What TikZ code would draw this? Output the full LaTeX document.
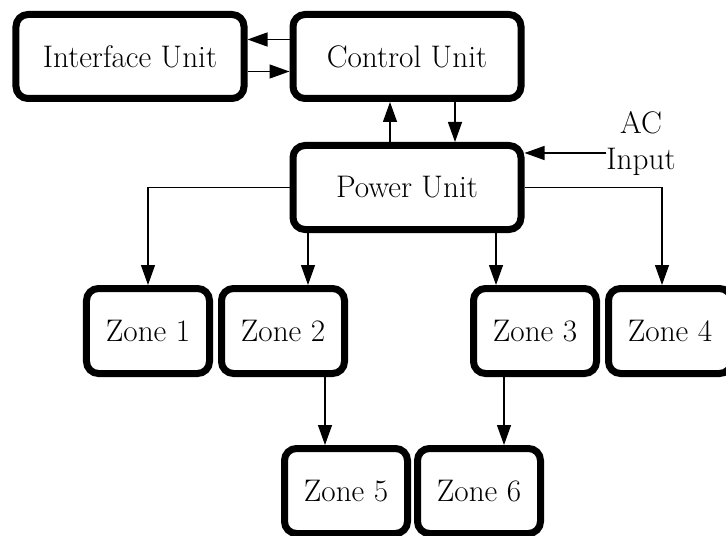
\documentclass[tikz,border=0pt]{standalone}
\usetikzlibrary{positioning,arrows.meta}

\begin{document}
\begin{tikzpicture}[
    >={Triangle[length=10pt,width=7pt]},
    font=\fontsize{15.6}{18}\selectfont,
    unit/.style={draw, rectangle, rounded corners=6pt, line width=3.5pt, minimum width=114pt, minimum height=42pt, align=center, fill=white},
    zone/.style={unit, minimum width=61.5pt, minimum height=42.5pt},
    arrow/.style={->, line width=0.65pt, draw=black}
]
  \useasboundingbox (-203.5pt,-239.25pt) rectangle (159.5pt,28.25pt);

  \node[unit] (ctrl) {Control Unit};
  \node[unit, left=21pt of ctrl] (iface) {Interface Unit};
  \node[unit, below=20pt of ctrl] (pwr) {Power Unit};
  \node[align=center, inner sep=0pt] (ac) at (117pt,-43.75pt) {AC\\Input};

  % zones
  \node[zone, below=26pt of pwr, xshift=-62pt] (z2) {Zone 2};
  \node[zone, left=2.5pt of z2] (z1) {Zone 1};
  \node[zone, below=26pt of pwr, xshift=64pt] (z3) {Zone 3};
  \node[zone, right=2.5pt of z3] (z4) {Zone 4};
  \node[zone, below=34pt of z2, xshift=31.5pt] (z5) {Zone 5};
  \node[zone, right=1.5pt of z5] (z6) {Zone 6};

  \draw[arrow] ([yshift=8.5pt]ctrl.west) -- ([yshift=8.5pt]iface.east);
  \draw[arrow] ([yshift=-7.5pt]iface.east) -- ([yshift=-7.5pt]ctrl.west);
  \draw[arrow] ([xshift=-8.5pt]pwr.north) -- ([xshift=-8.5pt]ctrl.south);
  \draw[arrow] ([xshift=24pt]ctrl.south) -- ([xshift=24pt]pwr.north);

  \coordinate (acin) at ([yshift=-4.5pt]ac.west);
  \draw[arrow] (acin) -- (acin -| pwr.east);

  \draw[arrow] (pwr.west) -| (z1.north);
  \draw[arrow] (pwr.east) -| ([xshift=-4pt]z4.north);
  \draw[arrow] ([xshift=12.5pt]z2.north |- pwr.south) -- ([xshift=12.5pt]z2.north);
  \draw[arrow] ([xshift=-19.5pt]z3.north |- pwr.south) -- ([xshift=-19.5pt]z3.north);
  \draw[arrow] ([xshift=-10.5pt]z5.north |- z2.south) -- ([xshift=-10.5pt]z5.north);
  \draw[arrow] ([xshift=12.5pt]z6.north |- z3.south) -- ([xshift=12.5pt]z6.north);
\end{tikzpicture}
\end{document}
